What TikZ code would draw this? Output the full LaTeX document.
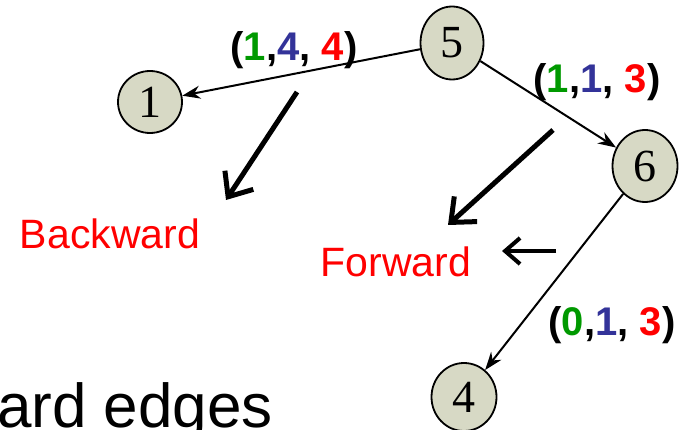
\documentclass[tikz,border=0pt]{standalone}
\usepackage{fontspec}
\setmainfont{Liberation Serif}
\setsansfont{Liberation Sans}
\usetikzlibrary{arrows.meta,shapes.geometric}
\definecolor{nodefill}{RGB}{215,217,197}
\definecolor{lgreen}{RGB}{0,153,0}
\definecolor{lblue}{RGB}{51,51,153}
\definecolor{lred}{RGB}{255,0,0}
\tikzset{
  vert/.style={ellipse,draw=black,line width=1.8pt,fill=nodefill,inner sep=0pt,
    font=\fontsize{46}{46}\selectfont},
  edge/.style={line width=2pt,-{Stealth[length=18pt,width=13pt]}},
  lbl/.style={font=\sffamily\bfseries\fontsize{40}{40}\selectfont,inner sep=0pt},
  note/.style={font=\sffamily\fontsize{41}{41}\selectfont,text=lred,inner sep=0pt},
  bigarrow/.style={line width=5pt,-{Straight Barb[length=20pt,width=34pt,line width=5pt]}},
}
\begin{document}
\begin{tikzpicture}[x=1pt,y=-1pt]
\useasboundingbox (0,0) rectangle (682,430);
\node[vert,minimum width=63pt,minimum height=73pt] (n5) at (452,43) {5};
\node[vert,minimum width=64pt,minimum height=62pt] (n1) at (150,102) {1};
\node[vert,minimum width=65pt,minimum height=72pt] (n6) at (645,166) {6};
\node[vert,minimum width=65pt,minimum height=68pt] (n4) at (464,397) {4};
\draw[edge] (n5) -- (n1);
\draw[edge] (n5) -- (n6);
\draw[edge] (n6) -- (n4);
\node[lbl] (l1) at (294,50) {(\textcolor{lgreen}{1},\textcolor{lblue}{4}, \textcolor{lred}{4})};
\node[lbl] (l2) at (597,82) {(\textcolor{lgreen}{1},\textcolor{lblue}{1}, \textcolor{lred}{3})};
\node[lbl] (l3) at (612,325) {(\textcolor{lgreen}{0},\textcolor{lblue}{1}, \textcolor{lred}{3})};
\node[note] (bw) at (110,234) {Backward};
\node[note] (fw) at (396,262) {Forward};
\coordinate (a1s) at (297,92);
\coordinate (a1e) at (226,200);
\coordinate (a2s) at (553,130);
\coordinate (a2e) at (448,225);
\coordinate (a3s) at (556,251);
\coordinate (a3e) at (502,251);
\draw[bigarrow] (a1s) -- (a1e);
\draw[bigarrow] (a2s) -- (a2e);
\draw[line width=4pt,-{Straight Barb[length=15pt,width=26pt,line width=4pt]}] (a3s) -- (a3e);
\node[anchor=base west,inner sep=0pt,font=\sffamily\fontsize{62}{62}\selectfont] (bottom) at (-3,427) {ard edges};
\end{tikzpicture}
\end{document}
